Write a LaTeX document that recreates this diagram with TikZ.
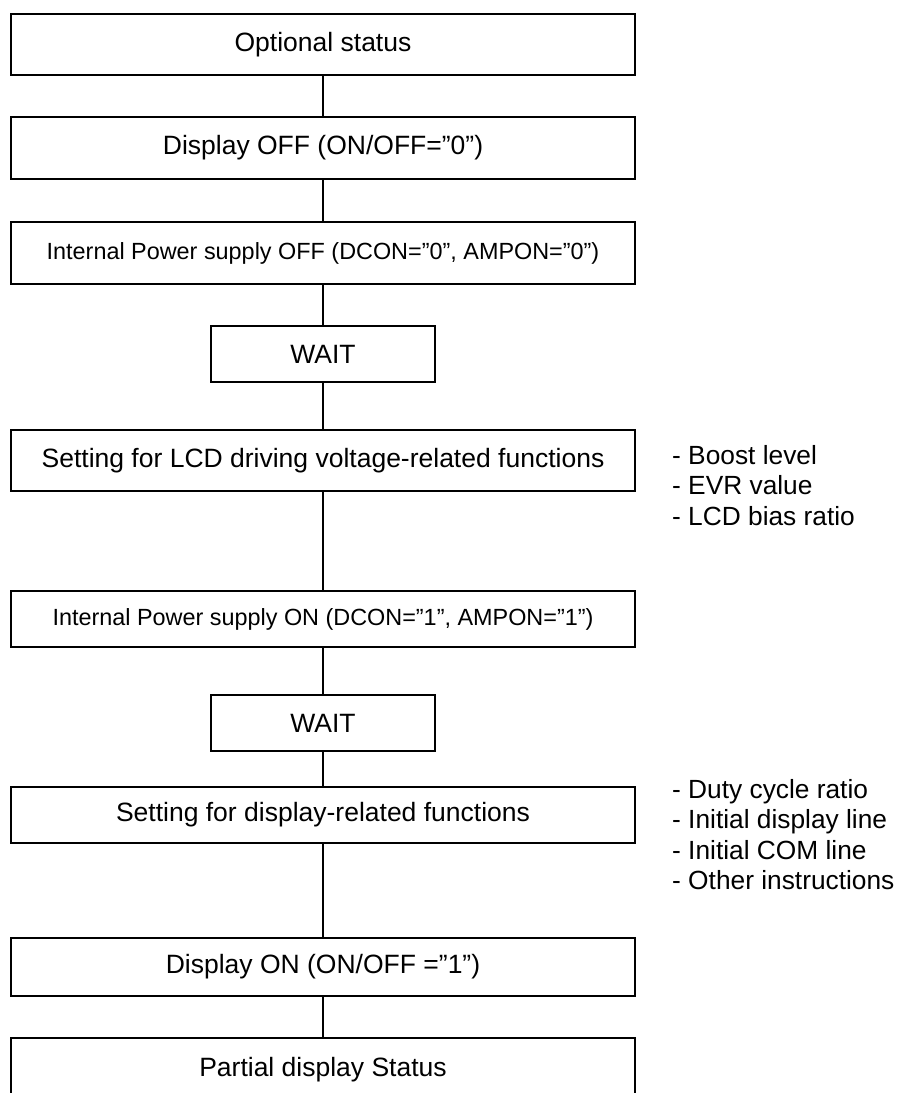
\documentclass[tikz,border=0pt]{standalone}
\usepackage{fontspec}
\setmainfont{Liberation Sans}
\begin{document}
\begin{tikzpicture}[x=1pt,y=-1pt,
  box/.style={draw,line width=1.6pt,inner sep=0pt,minimum width=624pt,font=\fontsize{26.5}{30}\selectfont},
  smallbox/.style={box,font=\fontsize{23.4}{28}\selectfont},
  waitbox/.style={box,minimum width=224pt},
  conn/.style={line width=1.6pt},
  note/.style={anchor=west,inner sep=0pt,align=left,font=\fontsize{26.3}{30.5}\selectfont}]
\useasboundingbox (0,0) rectangle (900,1093);
\clip (0,0) rectangle (900,1093);
\node[box,minimum height=61pt] (b1) at (323,44.5) {Optional status};
\node[box,minimum height=62pt] (b2) at (323,148) {Display OFF (ON/OFF=”0”)};
\node[smallbox,minimum height=62pt] (b3) at (323,253) {Internal Power supply OFF (DCON=”0”, AMPON=”0”)};
\node[waitbox,minimum height=56pt] (w1) at (323,354) {WAIT};
\node[box,minimum height=61pt] (b5) at (323,460.5) {Setting for LCD driving voltage-related functions};
\node[smallbox,minimum height=56pt] (b6) at (323,619) {Internal Power supply ON (DCON=”1”, AMPON=”1”)};
\node[waitbox,minimum height=56pt] (w2) at (323,723) {WAIT};
\node[box,minimum height=56pt] (b8) at (323,815) {Setting for display-related functions};
\node[box,minimum height=58pt] (b9) at (323,967) {Display ON (ON/OFF =”1”)};
\node[box,minimum height=64pt] (b10) at (323,1070) {Partial display Status};
\node[note] (n1) at (672,485.5) {- Boost level\\- EVR value\\- LCD bias ratio};
\node[note] (n2) at (672,834.5) {- Duty cycle ratio\\- Initial display line\\- Initial COM line\\- Other instructions};
\draw[conn] (b1) -- (b2);
\draw[conn] (b2) -- (b3);
\draw[conn] (b3) -- (w1);
\draw[conn] (w1) -- (b5);
\draw[conn] (b5) -- (b6);
\draw[conn] (b6) -- (w2);
\draw[conn] (w2) -- (b8);
\draw[conn] (b8) -- (b9);
\draw[conn] (b9) -- (b10);
\end{tikzpicture}
\end{document}
